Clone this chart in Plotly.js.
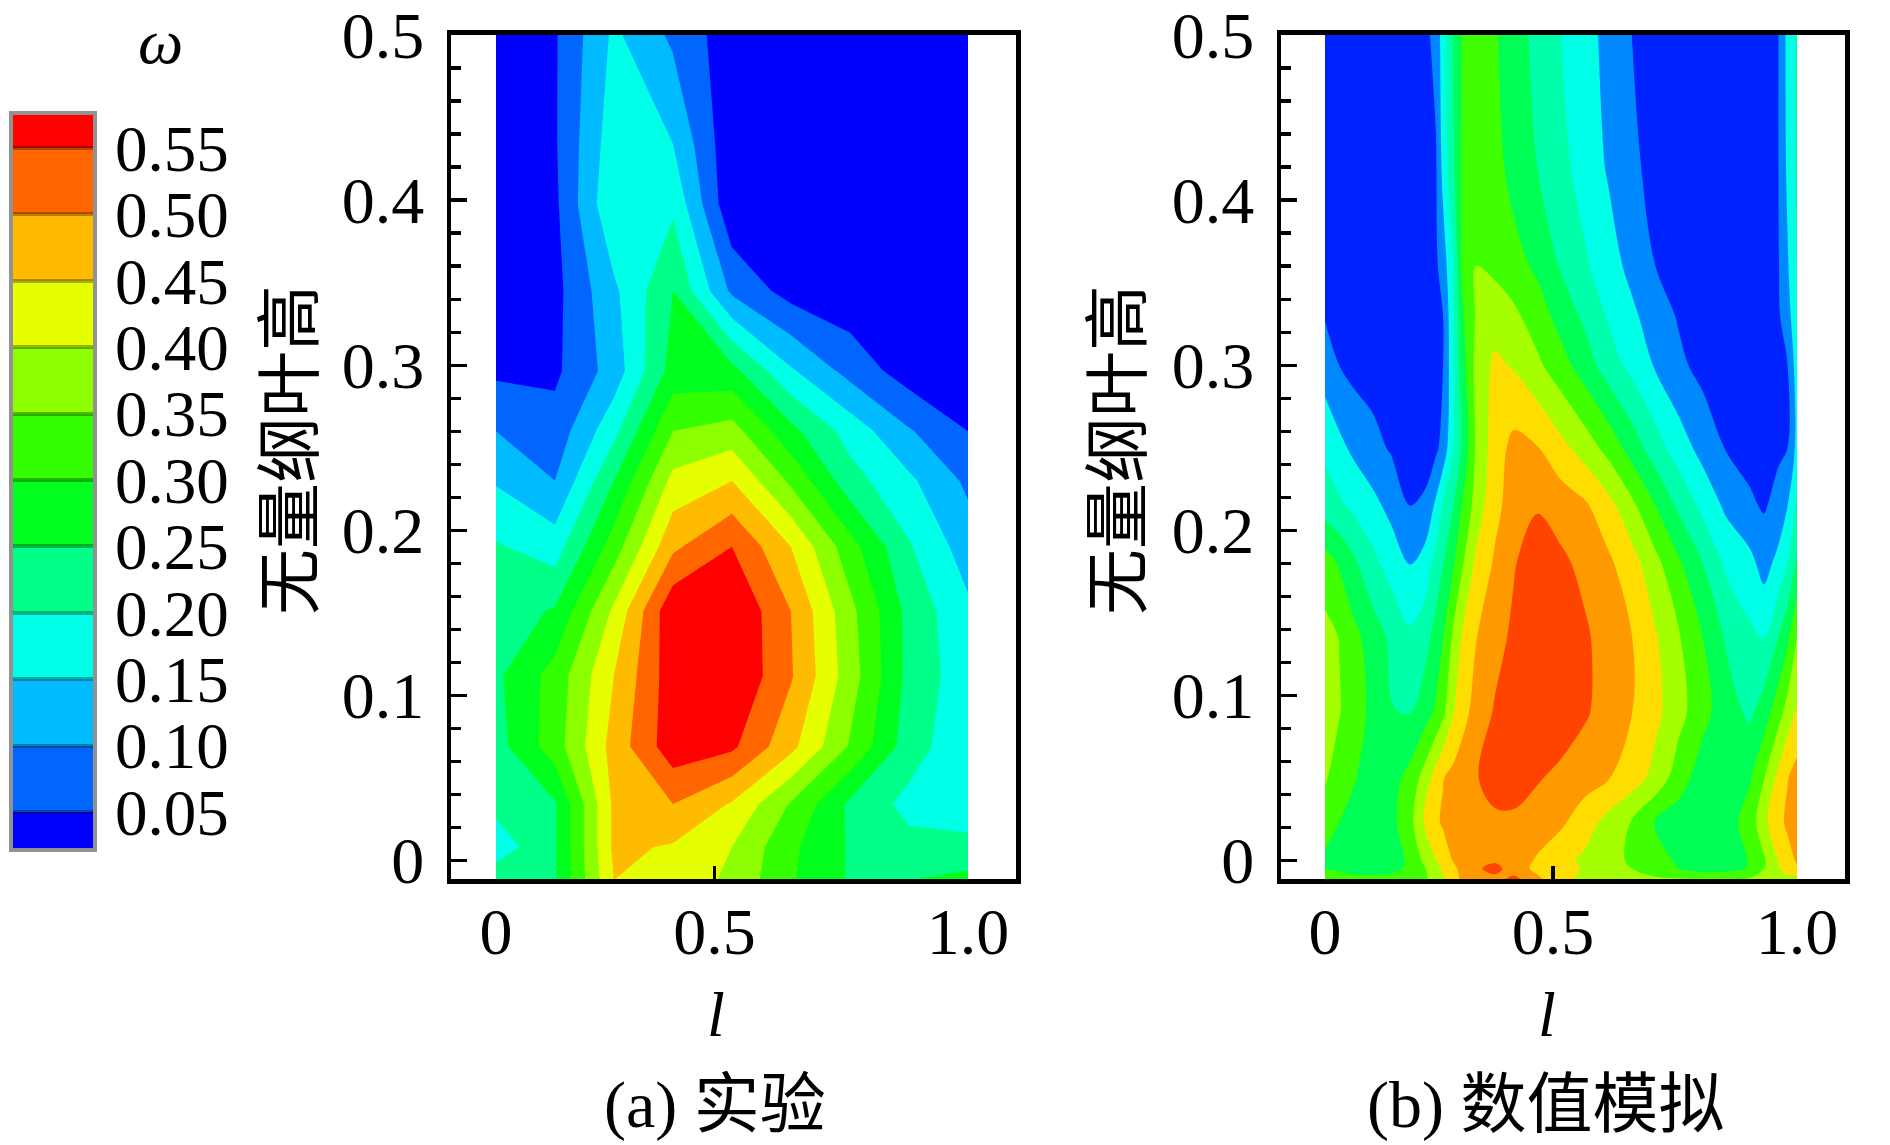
<!DOCTYPE html>
<html>
<head>
<meta charset="utf-8">
<script src="https://cdn.plot.ly/plotly-3.0.1.min.js"></script>
<style>body{margin:0;background:#fff}</style>
</head>
<body>
<div id="plot" style="width:1890px;height:1145px"></div>
<script>
// legend
var legendEdges = [0.0229, 0.05, 0.10, 0.15, 0.20, 0.25, 0.30, 0.35, 0.40, 0.45, 0.50, 0.55, 0.5748];
var legendMids = [0.025, 0.075, 0.125, 0.175, 0.225, 0.275, 0.325, 0.375, 0.425, 0.475, 0.525, 0.575];
var legendTicks = [0.05, 0.10, 0.15, 0.20, 0.25, 0.30, 0.35, 0.40, 0.45, 0.50, 0.55];

// band colours, low to high
var colorsA = ['#0000ff', '#0066ff', '#00bbff', '#00ffe6', '#00ff88', '#00ff1e', '#33ff00', '#8cff00', '#e6ff00', '#ffbb00', '#ff6600', '#ff0000'];
var colorsB = ['#0022ff', '#0088ff', '#00ffe6', '#00ffaa', '#00ff55', '#40ff00', '#a6ff00', '#ffdd00', '#ff9900', '#ff4400'];

// (a) experiment, measured on a coarse grid
var xA = [0, 0.125, 0.25, 0.375, 0.5, 0.625, 0.75, 0.875, 1];
var yA = [-0.012, 0.008, 0.034, 0.069, 0.112, 0.151, 0.19, 0.23, 0.26, 0.2967, 0.345, 0.3975, 0.434, 0.5];
var zA = [
  [0.235, 0.245, 0.45, 0.43, 0.39, 0.305, 0.245, 0.25, 0.265],
  [0.17, 0.245, 0.46, 0.445, 0.40, 0.31, 0.245, 0.215, 0.215],
  [0.215, 0.245, 0.46, 0.50, 0.445, 0.345, 0.24, 0.185, 0.17],
  [0.23, 0.326, 0.47, 0.58, 0.56, 0.465, 0.345, 0.225, 0.16],
  [0.24, 0.32, 0.45, 0.58, 0.60, 0.505, 0.375, 0.235, 0.17],
  [0.225, 0.255, 0.41, 0.59, 0.60, 0.50, 0.365, 0.235, 0.16],
  [0.205, 0.175, 0.325, 0.49, 0.55, 0.45, 0.32, 0.205, 0.125],
  [0.145, 0.10, 0.25, 0.415, 0.45, 0.34, 0.22, 0.16, 0.09],
  [0.10, 0.07, 0.185, 0.35, 0.37, 0.265, 0.18, 0.105, 0.05],
  [0.04, 0.04, 0.122, 0.27, 0.265, 0.156, 0.082, 0.025, 0.015],
  [0.02, 0.035, 0.14, 0.25, 0.09, 0.03, 0.015, 0.01, 0.01],
  [0.02, 0.04, 0.195, 0.19, 0.01, 0.01, 0.01, 0.01, 0.01],
  [0.02, 0.045, 0.18, 0.15, 0.01, 0.01, 0.01, 0.01, 0.01],
  [0.02, 0.045, 0.16, 0.09, 0.02, 0.02, 0.02, 0.02, 0.02]
];

// (b) simulation
var xB = [0, 0.03, 0.06, 0.1, 0.14, 0.18, 0.21, 0.235, 0.25, 0.27, 0.29, 0.32, 0.36, 0.4, 0.45, 0.5, 0.55, 0.6, 0.65, 0.7, 0.75, 0.8, 0.85, 0.9, 0.93, 0.96, 0.98, 1];
var yB = [-0.012, -0.005, 0, 0.023, 0.05, 0.09, 0.135, 0.18, 0.215, 0.25, 0.30, 0.33, 0.36, 0.42, 0.5];
var zB = [
  [0.34, 0.33, 0.32, 0.32, 0.32, 0.33, 0.34, 0.37, 0.39, 0.42, 0.46, 0.47, 0.48, 0.52, 0.46, 0.42, 0.38, 0.36, 0.36, 0.36, 0.36, 0.36, 0.36, 0.36, 0.36, 0.37, 0.38, 0.37],
  [0.30, 0.29, 0.28, 0.275, 0.285, 0.31, 0.345, 0.38, 0.41, 0.44, 0.46, 0.49, 0.52, 0.47, 0.44, 0.42, 0.395, 0.375, 0.35, 0.325, 0.30, 0.275, 0.28, 0.305, 0.35, 0.395, 0.425, 0.445],
  [0.29, 0.285, 0.278, 0.272, 0.283, 0.307, 0.36, 0.398, 0.427, 0.45, 0.46, 0.475, 0.49, 0.475, 0.445, 0.417, 0.39, 0.367, 0.343, 0.318, 0.293, 0.27, 0.275, 0.303, 0.343, 0.40, 0.433, 0.455],
  [0.325, 0.30, 0.283, 0.272, 0.285, 0.333, 0.402, 0.443, 0.455, 0.462, 0.47, 0.48, 0.488, 0.488, 0.475, 0.458, 0.424, 0.383, 0.347, 0.298, 0.275, 0.265, 0.28, 0.32, 0.386, 0.436, 0.458, 0.475],
  [0.355, 0.33, 0.305, 0.275, 0.28, 0.317, 0.368, 0.422, 0.448, 0.463, 0.476, 0.496, 0.525, 0.528, 0.505, 0.486, 0.47, 0.453, 0.425, 0.383, 0.323, 0.275, 0.27, 0.295, 0.347, 0.413, 0.448, 0.47],
  [0.37, 0.353, 0.325, 0.288, 0.252, 0.247, 0.276, 0.308, 0.338, 0.394, 0.431, 0.468, 0.505, 0.525, 0.54, 0.535, 0.507, 0.478, 0.451, 0.413, 0.367, 0.316, 0.273, 0.24, 0.275, 0.328, 0.37, 0.405],
  [0.365, 0.349, 0.316, 0.277, 0.24, 0.21, 0.228, 0.27, 0.298, 0.354, 0.402, 0.448, 0.482, 0.51, 0.535, 0.53, 0.508, 0.478, 0.451, 0.405, 0.354, 0.30, 0.244, 0.21, 0.20, 0.25, 0.29, 0.35],
  [0.325, 0.295, 0.26, 0.215, 0.18, 0.149, 0.17, 0.217, 0.248, 0.289, 0.342, 0.41, 0.457, 0.496, 0.53, 0.51, 0.487, 0.46, 0.42, 0.365, 0.307, 0.25, 0.19, 0.165, 0.13, 0.165, 0.20, 0.26],
  [0.225, 0.208, 0.19, 0.165, 0.135, 0.10, 0.105, 0.16, 0.205, 0.245, 0.30, 0.372, 0.435, 0.475, 0.495, 0.478, 0.458, 0.417, 0.362, 0.30, 0.239, 0.186, 0.14, 0.107, 0.095, 0.115, 0.15, 0.21],
  [0.19, 0.163, 0.14, 0.115, 0.095, 0.085, 0.085, 0.09, 0.117, 0.19, 0.255, 0.358, 0.425, 0.465, 0.452, 0.415, 0.377, 0.333, 0.278, 0.222, 0.174, 0.133, 0.097, 0.085, 0.085, 0.092, 0.10, 0.165],
  [0.125, 0.10, 0.085, 0.08, 0.08, 0.08, 0.085, 0.09, 0.10, 0.18, 0.275, 0.365, 0.41, 0.395, 0.36, 0.32, 0.275, 0.225, 0.185, 0.145, 0.11, 0.085, 0.08, 0.08, 0.085, 0.09, 0.10, 0.175],
  [0.097, 0.085, 0.08, 0.075, 0.075, 0.075, 0.08, 0.09, 0.10, 0.185, 0.29, 0.355, 0.375, 0.36, 0.325, 0.28, 0.24, 0.195, 0.16, 0.125, 0.095, 0.08, 0.075, 0.08, 0.085, 0.093, 0.125, 0.20],
  [0.08, 0.075, 0.07, 0.07, 0.07, 0.07, 0.075, 0.09, 0.125, 0.19, 0.305, 0.35, 0.34, 0.32, 0.29, 0.245, 0.208, 0.172, 0.136, 0.10, 0.08, 0.07, 0.07, 0.075, 0.085, 0.095, 0.145, 0.20],
  [0.07, 0.07, 0.07, 0.07, 0.07, 0.07, 0.08, 0.095, 0.165, 0.235, 0.305, 0.335, 0.32, 0.28, 0.25, 0.215, 0.18, 0.145, 0.11, 0.085, 0.075, 0.075, 0.075, 0.08, 0.09, 0.098, 0.16, 0.21],
  [0.08, 0.08, 0.08, 0.08, 0.08, 0.08, 0.085, 0.115, 0.175, 0.245, 0.30, 0.33, 0.305, 0.275, 0.235, 0.20, 0.17, 0.135, 0.10, 0.08, 0.075, 0.075, 0.075, 0.08, 0.085, 0.098, 0.165, 0.21]
];

var xTickPosA = 0.463;  // the 0.5 tick sits left of centre in the original
var xTickPosB = 0.483;
var xLabels = ['0', '0.5', '1.0'];
var yTickVals = [0, 0.1, 0.2, 0.3, 0.4, 0.5];
var yTickText = ['0', '0.1', '0.2', '0.3', '0.4', '0.5'];

var W = 1890, H = 1145;
var serif = '"Liberation Serif", "Noto Sans CJK SC", serif';

function scale(colors) {
  return colors.map(function(c, i) { return [i / (colors.length - 1), c]; });
}

function dom(a, b, size) { return [a / size, b / size]; }
function domY(top, bottom) { return [1 - bottom / H, 1 - top / H]; }

function xAxis(left, right, range, tickPos, anchor) {
  return {
    domain: dom(left, right, W), range: range, anchor: anchor,
    tickmode: 'array', tickvals: [0, tickPos, 1], ticktext: xLabels,
    ticks: 'outside', ticklen: 0, ticklabelstandoff: -9,
    minor: {tickmode: 'array', tickvals: [tickPos], ticks: 'inside', ticklen: 13, tickwidth: 3.2, tickcolor: '#000'},
    showline: true, linecolor: '#000', linewidth: 4.5, mirror: true,
    showgrid: false, zeroline: false,
    tickfont: {family: serif, size: 66, color: '#000'}
  };
}

function yAxis(anchor) {
  return {
    domain: domY(34.5, 879), range: [-0.0113, 0.5003], anchor: anchor,
    tickmode: 'array', tickvals: yTickVals, ticktext: yTickText,
    ticks: 'inside', ticklen: 16, tickwidth: 3.2, tickcolor: '#000',
    minor: {tick0: 0, dtick: 0.02, ticks: 'inside', ticklen: 10, tickwidth: 3.2, tickcolor: '#000'},
    ticklabelstandoff: 9, ticklabeloverflow: 'allow',
    showline: true, linecolor: '#000', linewidth: 4.5, mirror: true,
    showgrid: false, zeroline: false,
    tickfont: {family: serif, size: 66, color: '#000'}
  };
}

function label(text, x, y, size, angle) {
  return {
    xref: 'paper', yref: 'paper', x: x / W, y: 1 - y / H, text: text,
    showarrow: false, xanchor: 'center', yanchor: 'middle', textangle: angle || 0,
    font: {family: serif, size: size, color: '#000'}
  };
}

var traces = [
  {
    type: 'contour', x: xA, y: yA, z: zA, xaxis: 'x', yaxis: 'y',
    autocontour: false, contours: {start: 0.05, end: 0.55, size: 0.05, coloring: 'fill', showlines: false},
    line: {width: 0, smoothing: 0}, colorscale: scale(colorsA), showscale: false, hoverinfo: 'skip'
  },
  {
    type: 'contour', x: xB, y: yB, z: zB, xaxis: 'x2', yaxis: 'y2',
    autocontour: false, contours: {start: 0.10, end: 0.50, size: 0.05, coloring: 'fill', showlines: false},
    line: {width: 0, smoothing: 1}, colorscale: scale(colorsB), showscale: false, hoverinfo: 'skip'
  },
  {
    type: 'heatmap', x: [0, 1], y: legendEdges,
    z: legendMids.map(function(v) { return [v]; }),
    xaxis: 'x3', yaxis: 'y3', zmin: 0.025, zmax: 0.575,
    colorscale: scale(colorsA), showscale: false, hoverinfo: 'skip'
  }
];

var layout = {
  width: W, height: H,
  margin: {l: 0, r: 0, t: 0, b: 0},
  paper_bgcolor: '#fff', plot_bgcolor: '#fff',
  showlegend: false,
  xaxis: xAxis(451, 1016, [-0.0953, 1.1017], xTickPosA, 'y'),
  yaxis: yAxis('x'),
  xaxis2: xAxis(1281, 1845, [-0.0932, 1.1017], xTickPosB, 'y2'),
  yaxis2: yAxis('x2'),
  xaxis3: {
    domain: dom(13, 93, W), range: [0, 1], anchor: 'y3',
    showticklabels: false, ticks: '', showgrid: false, zeroline: false,
    showline: true, linecolor: 'rgba(110,110,110,0.75)', linewidth: 4, mirror: true
  },
  yaxis3: {
    domain: domY(115, 848), range: [0.0229, 0.5748], anchor: 'x3', side: 'right',
    tickmode: 'array', tickvals: legendTicks, ticktext: legendTicks.map(function(v) { return v.toFixed(2); }),
    ticks: 'inside', ticklen: 80, tickwidth: 4, tickcolor: 'rgba(0,0,0,0.3)', ticklabelstandoff: 5,
    showgrid: false, zeroline: false,
    showline: true, linecolor: 'rgba(110,110,110,0.75)', linewidth: 4, mirror: true,
    tickfont: {family: serif, size: 65, color: '#000'}
  },
  annotations: [
    label('<i>ω</i>', 160, 41, 64),
    label('无量纲叶高', 290, 450, 66, -90),
    label('无量纲叶高', 1118, 450, 66, -90),
    label('<i>l</i>', 716, 1014, 64),
    label('<i>l</i>', 1547, 1014, 64),
    label('(a) 实验', 715, 1105, 66),
    label('(b) 数值模拟', 1545, 1105, 66)
  ]
};

Plotly.newPlot('plot', traces, layout, {displayModeBar: false, staticPlot: true});
</script>
</body>
</html>
